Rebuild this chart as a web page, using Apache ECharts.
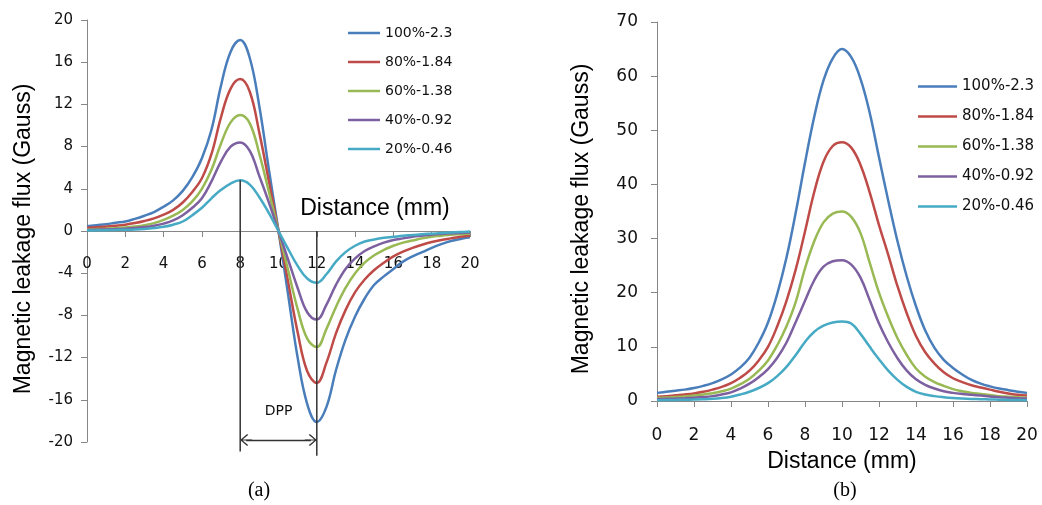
<!DOCTYPE html>
<html>
<head>
<meta charset="utf-8">
<script src="https://cdn.jsdelivr.net/npm/echarts@6.0.0/dist/echarts.min.js"></script>
<style>
  html, body { margin: 0; padding: 0; background: #fff; }
  #chart { width: 1042px; height: 505px; }
</style>
</head>
<body>
<div id="chart"></div>
<script>
// distance along the scan (mm), shared by both panels
const xs = [0, 0.5, 1, 1.5, 2, 2.5, 3, 3.5, 4, 4.5, 5, 5.5, 6, 6.5, 7, 7.5, 8, 8.5, 9, 9.5, 10,
  10.5, 11, 11.5, 12, 12.5, 13, 13.5, 14, 14.5, 15, 15.5, 16, 16.5, 17, 17.5, 18, 18.5, 19, 19.5, 20]

const names = ['100%-2.3', '80%-1.84', '60%-1.38', '40%-0.92', '20%-0.46']
const colors = ['#4a7ebb', '#be4b48', '#98b954', '#7d60a0', '#46aac5']

// (a) normal component
const a100 = [0.45, 0.55, 0.65, 0.78, 0.9, 1.15, 1.45, 1.8, 2.3, 2.9, 3.8, 5.1, 6.9, 9.6, 13.8, 17.0, 18.1, 16.4, 11.8, 5.8, 0,
  -6.0, -12.0, -16.4, -18.1, -16.7, -13.2, -10.3, -8.1, -6.4, -5.1, -4.3, -3.6, -2.9, -2.4, -2.0, -1.6, -1.25, -0.95, -0.75, -0.6]
const a80 = [0.3, 0.35, 0.42, 0.5, 0.6, 0.75, 0.95, 1.2, 1.55, 2.0, 2.7, 3.7, 5.0, 7.3, 10.8, 13.5, 14.4, 13.2, 9.3, 4.7, 0,
  -4.8, -9.6, -13.3, -14.4, -12.5, -9.7, -7.5, -5.8, -4.6, -3.7, -3.0, -2.4, -1.95, -1.6, -1.3, -1.05, -0.85, -0.7, -0.55, -0.45]
const a60 = [0.15, 0.18, 0.22, 0.27, 0.33, 0.42, 0.55, 0.75, 1.05, 1.45, 2.0, 2.8, 4.0, 5.8, 8.3, 10.3, 11.0, 10.2, 7.3, 3.7, 0,
  -3.7, -7.4, -10.2, -11.0, -9.3, -7.2, -5.4, -4.0, -3.0, -2.3, -1.8, -1.4, -1.1, -0.9, -0.7, -0.55, -0.45, -0.35, -0.3, -0.25]
const a40 = [0.1, 0.12, 0.15, 0.18, 0.22, 0.28, 0.37, 0.5, 0.7, 1.0, 1.5, 2.2, 3.1, 4.7, 6.6, 8.0, 8.4, 7.6, 5.2, 2.7, 0,
  -2.7, -5.4, -7.7, -8.4, -7.0, -5.1, -3.6, -2.6, -1.9, -1.45, -1.1, -0.85, -0.7, -0.55, -0.45, -0.35, -0.28, -0.22, -0.18, -0.15]
const a20 = [0.05, 0.06, 0.08, 0.1, 0.12, 0.15, 0.2, 0.28, 0.4, 0.6, 0.9, 1.5, 2.2, 3.1, 3.9, 4.5, 4.8, 4.4, 3.2, 1.7, 0,
  -1.7, -3.3, -4.5, -4.9, -4.1, -2.9, -2.0, -1.4, -1.0, -0.8, -0.65, -0.55, -0.45, -0.38, -0.3, -0.25, -0.2, -0.15, -0.1, -0.05]

// (b) tangential component
const b100 = [1.5, 1.7, 1.9, 2.1, 2.4, 2.8, 3.3, 4.0, 4.9, 6.2, 8.0, 10.8, 14.5, 19.8, 26.5, 34.8, 44.0, 52.5, 59.2, 63.3, 65.0,
  63.5, 59.5, 53.2, 45.0, 37.0, 29.5, 23.0, 17.5, 13.0, 9.8, 7.6, 6.1, 4.9, 3.9, 3.2, 2.7, 2.3, 2.0, 1.7, 1.5]
const b80 = [0.8, 0.9, 1.05, 1.2, 1.4, 1.7, 2.1, 2.6, 3.3, 4.3, 5.6, 7.5, 10.0, 13.8, 18.5, 24.3, 31.3, 38.6, 44.2, 47.1, 47.8,
  46.8, 43.6, 38.5, 32.5, 27.0, 21.2, 16.2, 12.0, 9.0, 6.9, 5.3, 4.2, 3.5, 2.9, 2.5, 2.1, 1.7, 1.4, 1.15, 1.0]
const b60 = [0.6, 0.65, 0.75, 0.85, 1.0, 1.2, 1.45, 1.8, 2.3, 3.1, 4.1, 5.6, 7.5, 10.3, 13.8, 18.3, 24.5, 29.5, 33.0, 34.6, 35.0,
  34.0, 31.0, 25.5, 20.0, 15.5, 11.6, 8.5, 6.0, 4.5, 3.5, 2.8, 2.2, 1.8, 1.5, 1.3, 1.1, 0.9, 0.8, 0.7, 0.6]
const b40 = [0.35, 0.4, 0.45, 0.52, 0.6, 0.72, 0.9, 1.2, 1.6, 2.3, 3.2, 4.4, 5.9, 8.0, 10.8, 14.6, 18.5, 22.3, 24.8, 25.8, 26.0,
  25.2, 22.8, 18.6, 14.3, 10.8, 7.9, 5.6, 4.0, 3.0, 2.3, 1.8, 1.5, 1.3, 1.15, 1.0, 0.85, 0.7, 0.6, 0.5, 0.45]
const b20 = [0.15, 0.17, 0.2, 0.23, 0.27, 0.32, 0.4, 0.55, 0.8, 1.2, 1.7, 2.4, 3.3, 4.6, 6.3, 8.5, 10.9, 12.8, 13.9, 14.5, 14.7,
  14.3, 12.4, 10.0, 7.7, 5.6, 3.9, 2.6, 1.7, 1.2, 0.9, 0.7, 0.55, 0.45, 0.38, 0.33, 0.28, 0.24, 0.2, 0.18, 0.15]

// peak-to-peak markers on (a)
const peakLine = [[8, 4.8], [8, -20.9]]
const valleyLine = [[12, 0], [12, -21.3]]
const dppY = -19.8

const seriesA = [a100, a80, a60, a40, a20]
const seriesB = [b100, b80, b60, b40, b20]

const axisGray = '#868686'
const txt = '#111'
const tickFont = 'DejaVu Sans'
const nameFont = 'Liberation Sans, Arial, sans-serif'

function lineSeries(name, vals, color, idx) {
  return {
    name,
    type: 'line',
    xAxisIndex: idx,
    yAxisIndex: idx,
    data: xs.map((x, i) => [x, vals[i]]),
    smooth: 0.4,
    symbol: 'none',
    lineStyle: { color, width: 2.5 },
    itemStyle: { color },
  }
}

function xAxis(idx, labelSize, margin, offset) {
  return {
    type: 'value', gridIndex: idx, min: 0, max: 20, interval: 2,
    offset,
    axisLine: { onZero: false, lineStyle: { color: axisGray } },
    axisTick: { show: true, length: 6, lineStyle: { color: axisGray } },
    axisLabel: { color: txt, fontFamily: tickFont, fontSize: labelSize, margin },
    splitLine: { show: false },
  }
}

function yAxis(idx, min, max, interval, labelSize, margin) {
  return {
    type: 'value', gridIndex: idx, min, max, interval,
    axisLine: { show: true, lineStyle: { color: axisGray } },
    axisTick: { show: true, length: 6, lineStyle: { color: axisGray } },
    axisLabel: { color: txt, fontFamily: tickFont, fontSize: labelSize, margin },
    splitLine: { show: false },
  }
}

// plain line icon; the zero-size moves pad the box to itemWidth x 14
function lineIcon(w) {
  return 'path://M0,0 L0.01,0 M0,5.75 H' + w + ' V8.25 H0 Z M' + (w - 0.01) + ',14 L' + w + ',14'
}

function legend(left, top, w, size) {
  return {
    data: names, orient: 'vertical', left, top,
    icon: lineIcon(w),
    itemWidth: w, itemHeight: 14, itemGap: 15,
    textStyle: { color: txt, fontFamily: tickFont, fontSize: size, lineHeight: 14 },
    selectedMode: false,
  }
}

function label(text, x, y, size, font, rot) {
  return {
    type: 'text', x, y, rotation: rot || 0,
    style: { text, fill: '#000', fontSize: size, fontFamily: font, align: 'center', verticalAlign: 'middle' },
  }
}

// open chevron with a short stub, pointing up
const chevron = 'path://M6,0 L12,7 L11,8 L6.5,2.5 L6.5,12 L5.5,12 L5.5,2.5 L1,8 L0,7 Z'

const chart = echarts.init(document.getElementById('chart'))

const series = []
seriesA.forEach((v, i) => series.push(lineSeries(names[i], v, colors[i], 0)))
seriesB.forEach((v, i) => series.push(lineSeries(names[i], v, colors[i], 1)))

series.push({
  type: 'line', xAxisIndex: 0, yAxisIndex: 0, data: peakLine, clip: false, symbol: 'none', silent: true,
  lineStyle: { color: '#333', width: 1.5 }, z: 5,
  markLine: {
    silent: true, animation: false,
    symbol: [chevron, chevron], symbolSize: [12, 12],
    lineStyle: { color: '#333', width: 1.3, type: 'solid' },
    label: { show: true, position: 'middle', formatter: 'DPP', distance: 22, color: txt, fontFamily: tickFont, fontSize: 14 },
    data: [[{ coord: [8.31, dppY] }, { coord: [11.69, dppY] }]],
  },
})
series.push({
  type: 'line', xAxisIndex: 0, yAxisIndex: 0, data: valleyLine, clip: false, symbol: 'none', silent: true,
  lineStyle: { color: '#333', width: 1.5 }, z: 5,
})

chart.setOption({
  animation: false,
  backgroundColor: '#fff',
  grid: [
    { left: 87, top: 20, width: 383, height: 422 },
    { left: 657, top: 22, width: 370, height: 379 },
  ],
  // panel (a): x axis sits on the zero line, half the grid height up
  xAxis: [xAxis(0, 15, 26, -211), xAxis(1, 17, 26, 0)],
  yAxis: [yAxis(0, -20, 20, 4, 15, 14), yAxis(1, 0, 70, 10, 17, 19)],
  legend: [legend(343, 21, 32, 14), legend(913, 74, 39, 15)],
  graphic: [
    label('Distance (mm)', 375, 209, 23, nameFont),
    label('Magnetic leakage flux (Gauss)', 24, 239, 23, nameFont, Math.PI / 2),
    label('Distance (mm)', 842, 462, 23, nameFont),
    label('Magnetic leakage flux (Gauss)', 582, 219, 23, nameFont, Math.PI / 2),
    label('(a)', 259, 491, 20, 'Liberation Serif, serif'),
    label('(b)', 845, 491, 20, 'Liberation Serif, serif'),
  ],
  series,
})
</script>
</body>
</html>
